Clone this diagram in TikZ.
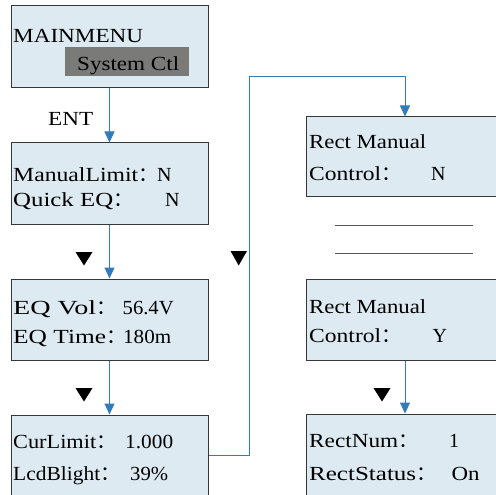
\documentclass[tikz,border=0pt]{standalone}
\usepackage{fontspec}
\usepackage{graphicx}
\setmainfont{Liberation Serif}
\newfontfamily\cjk{Noto Sans CJK SC}
\usetikzlibrary{arrows.meta}
\definecolor{boxfill}{RGB}{222,234,242}
\definecolor{boxedge}{RGB}{55,55,55}
\definecolor{arrowblue}{RGB}{52,124,184}
\definecolor{hlgray}{RGB}{122,122,120}
\newcommand{\cc}{{\cjk ：}}
\newcommand{\fitw}[2]{\resizebox{#1pt}{\height}{#2}}
\tikzset{
  menubox/.style={draw=boxedge, fill=boxfill, line width=1pt, inner sep=0pt, minimum height=81pt},
  txt/.style={anchor=base west, inner sep=0pt, font=\fontsize{20}{23}\selectfont, text=black},
  flow/.style={draw=arrowblue, line width=1pt, -{Triangle[width=10pt,length=11pt]}},
  tri/.style={fill=black, draw=none},
  sep/.style={draw=black!65, line width=0.8pt}
}
\begin{document}
\begin{tikzpicture}[x=1pt,y=-1pt]
\clip (0,0) rectangle (496,495);
\fill[white] (0,0) rectangle (496,495);
% left column boxes
\node[menubox, minimum width=197pt, minimum height=82pt] (b1) at (109.5,47) {};
\node[menubox, minimum width=197pt] (b2) at (109.5,183.5) {};
\node[menubox, minimum width=197pt] (b3) at (109.5,319.5) {};
\node[menubox, minimum width=197pt] (b4) at (109.5,455.5) {};
% right column boxes
\node[menubox, minimum width=198pt, minimum height=79pt] (b5) at (405,156.5) {};
\node[menubox, minimum width=198pt] (b6) at (405,319.5) {};
\node[menubox, minimum width=198pt] (b7) at (405,454.5) {};
% highlight
\node[fill=hlgray, minimum width=124pt, minimum height=29pt, inner sep=0pt] (hl) at (127,61.5) {};
% texts box1
\node[txt] (t1) at (13,43) {\fitw{130}{MAINMENU}};
\node[txt] (t2) at (77,70.5) {\fitw{102}{System Ctl}};
\node[txt] (ent) at (48,125) {\fitw{45}{ENT}};
% box2
\node[txt] (t3) at (13,181) {\fitw{125}{ManualLimit}\cc};
\node[txt] (v3) at (157,181) {N};
\node[txt] (t4) at (13,206) {\fitw{100}{Quick EQ}\cc};
\node[txt] (v4) at (165,206) {N};
% box3
\node[txt] (t5) at (13,314) {\fitw{83}{EQ Vol}\cc};
\node[txt] (v5) at (122.5,314) {\fitw{51}{56.4V}};
\node[txt] (t6) at (13,343) {\fitw{93}{EQ Time}\cc};
\node[txt] (v6) at (123,343) {\fitw{48}{180m}};
% box4
\node[txt] (t7) at (13,448) {\fitw{83}{CurLimit}\cc};
\node[txt] (v7) at (125,448) {\fitw{48}{1.000}};
\node[txt] (t8) at (13,480) {\fitw{87}{LcdBlight}\cc};
\node[txt] (v8) at (130,480) {\fitw{38}{39\%}};
% box5
\node[txt] (t9) at (309,148) {\fitw{117}{Rect Manual}};
\node[txt] (t10) at (309,180) {\fitw{72}{Control}\cc};
\node[txt] (v10) at (431,180) {N};
% box6
\node[txt] (t11) at (309,313) {\fitw{117}{Rect Manual}};
\node[txt] (t12) at (309,342) {\fitw{72}{Control}\cc};
\node[txt] (v12) at (432.5,342) {Y};
% box7
\node[txt] (t13) at (309,447) {\fitw{89}{RectNum}\cc};
\node[txt] (v13) at (449,447) {1};
\node[txt] (t14) at (309,480) {\fitw{107}{RectStatus}\cc};
\node[txt] (v14) at (451.5,480) {\fitw{28}{On}};
% separator lines
\coordinate (s1a) at (335,225); \coordinate (s1b) at (473,225);
\coordinate (s2a) at (335,253); \coordinate (s2b) at (473,253);
\draw[sep] (s1a) -- (s1b);
\draw[sep] (s2a) -- (s2b);
% arrows
\draw[flow] (b1.south) -- (b2.north);
\draw[flow] (b2.south) -- (b3.north);
\draw[flow] (b3.south) -- (b4.north);
\coordinate (turn) at (249,77);
\draw[flow] (b4.east) -| (turn) -| (b5.north);
\draw[flow] (b6.south) -- (b7.north);
% black triangles
\fill[tri] (75.5,252) -- (92.5,252) -- (84,265.5) -- cycle;
\fill[tri] (75.5,388) -- (92.5,388) -- (84,401.5) -- cycle;
\fill[tri] (230.5,251) -- (247,251) -- (238.7,265.5) -- cycle;
\fill[tri] (373.5,388) -- (390.5,388) -- (382,401.5) -- cycle;
\end{tikzpicture}
\end{document}
